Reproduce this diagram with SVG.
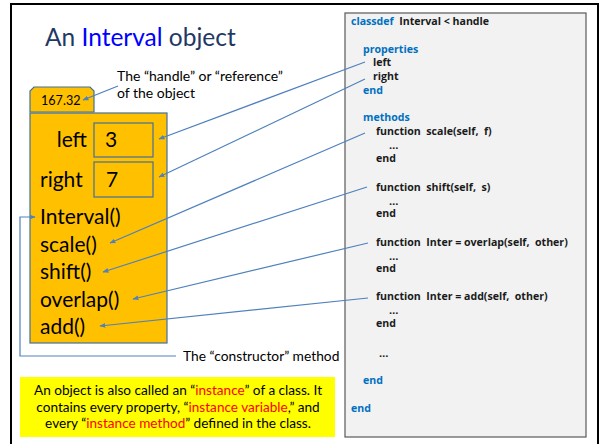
<svg xmlns="http://www.w3.org/2000/svg" width="600" height="444" viewBox="0 0 600 444">
<style>
.t{font-family:Lato,"Open Sans",sans-serif;fill:#000}
.c{font-family:"Open Sans",Lato,sans-serif;font-weight:bold;font-size:10.6px;fill:#1a1a1a;white-space:pre}
.d{font-size:11px}
.k{fill:#0070C0}
.m{font-size:21px}
.r{fill:#FF0000}
.conn{stroke:#4F81BD;stroke-width:1.2;fill:none}
</style>
<defs>
<marker id="ah" viewBox="0 0 10 10" refX="9" refY="5" markerWidth="6" markerHeight="6" orient="auto" markerUnits="userSpaceOnUse">
<path d="M0,1 L10,5 L0,9 z" fill="#4F81BD"/>
</marker>
</defs>
<rect width="600" height="444" fill="#fff"/>
<path d="M11,444 V4 H598 V444" fill="none" stroke="#000" stroke-width="2"/>
<g id="title"><text x="45" y="46" class="t" font-size="24.5" style="fill:#1F3864">An <tspan style="fill:#0000FF">Interval</tspan> object</text></g>
<g id="handle">
<path d="M30,112 V91 L34,87 H90 L94,91 V112 Z" fill="#FFC000" stroke="#41719C" stroke-width="1.2"/>
<text x="41" y="105" class="t" font-size="12.6">167.32</text>
</g>
<g id="handle-note">
<text x="117" y="81" class="t" font-size="14">The “handle” or “reference”</text>
<text x="117" y="98" class="t" font-size="14">of the object</text>
</g>
<g id="object">
<rect x="30" y="113" width="137" height="230" fill="#FFC000" stroke="#41719C" stroke-width="1.2"/>
<rect x="94" y="123" width="59" height="34" fill="#FFC000" stroke="#41719C" stroke-width="1.2"/>
<rect x="94" y="162" width="59" height="35" fill="#FFC000" stroke="#41719C" stroke-width="1.2"/>
<text x="87" y="147" class="t m" text-anchor="end">left</text>
<text x="105" y="147" class="t m">3</text>
<text x="40" y="187" class="t m">right</text>
<text x="106" y="187" class="t m">7</text>
<text x="40" y="224" class="t m">Interval()</text>
<text x="40" y="252" class="t m">scale()</text>
<text x="40" y="279" class="t m">shift()</text>
<text x="40" y="307" class="t m">overlap()</text>
<text x="40" y="334" class="t m">add()</text>
</g>
<g id="constructor-note"><text x="183" y="361" class="t" font-size="13.8">The “constructor” method</text></g>
<g id="code">
<rect x="345" y="13" width="241" height="424" fill="#F2F2F2" stroke="#595959" stroke-width="1.2"/>
<text x="351" y="25" class="c" xml:space="preserve"><tspan class="k">classdef</tspan>  Interval &lt; handle</text>
<text x="363" y="53" class="c k">properties</text>
<text x="373" y="66" class="c">left</text>
<text x="373" y="80" class="c">right</text>
<text x="363" y="94" class="c k">end</text>
<text x="363" y="121" class="c k">methods</text>
<text x="376" y="135" class="c" xml:space="preserve">function  scale(self,  f)</text>
<text x="389" y="149" class="c d" letter-spacing="1">…</text>
<text x="376" y="162" class="c">end</text>
<text x="376" y="191" class="c" xml:space="preserve">function  shift(self,  s)</text>
<text x="389" y="205" class="c d">…</text>
<text x="376" y="217" class="c">end</text>
<text x="376" y="246" class="c" xml:space="preserve">function  Inter = overlap(self,  other)</text>
<text x="389" y="260" class="c d">…</text>
<text x="376" y="272" class="c">end</text>
<text x="376" y="300" class="c" xml:space="preserve">function  Inter = add(self,  other)</text>
<text x="389" y="314" class="c d">…</text>
<text x="376" y="327" class="c">end</text>
<text x="379" y="357" class="c d">…</text>
<text x="363" y="384" class="c k">end</text>
<text x="351" y="412" class="c k">end</text>
</g>
<g id="note">
<rect x="20" y="377" width="315" height="60" fill="#FFFF00"/>
<text x="178" y="395" class="t" font-size="13.6" text-anchor="middle">An object is also called an “<tspan class="r">instance</tspan>” of a class. It</text>
<text x="178" y="412" class="t" font-size="13.6" text-anchor="middle">contains every property, “<tspan class="r">instance variable</tspan>,” and</text>
<text x="178" y="428" class="t" font-size="13.6" text-anchor="middle">every “<tspan class="r">instance method</tspan>” defined in the class.</text>
</g>
<g id="connectors">
<line x1="118" y1="86" x2="83" y2="100" class="conn" marker-end="url(#ah)"/>
<line x1="365" y1="62" x2="159" y2="139" class="conn" marker-end="url(#ah)"/>
<line x1="365" y1="79" x2="159" y2="177" class="conn" marker-end="url(#ah)"/>
<line x1="365" y1="133" x2="110" y2="243" class="conn" marker-end="url(#ah)"/>
<line x1="367" y1="187" x2="103" y2="272" class="conn" marker-end="url(#ah)"/>
<line x1="368" y1="243" x2="133" y2="299" class="conn" marker-end="url(#ah)"/>
<line x1="368" y1="298" x2="100" y2="326" class="conn" marker-end="url(#ah)"/>
<path d="M176,356 H20 V217 H35" class="conn" stroke-width="1.5" marker-end="url(#ah)"/>
</g>
</svg>
